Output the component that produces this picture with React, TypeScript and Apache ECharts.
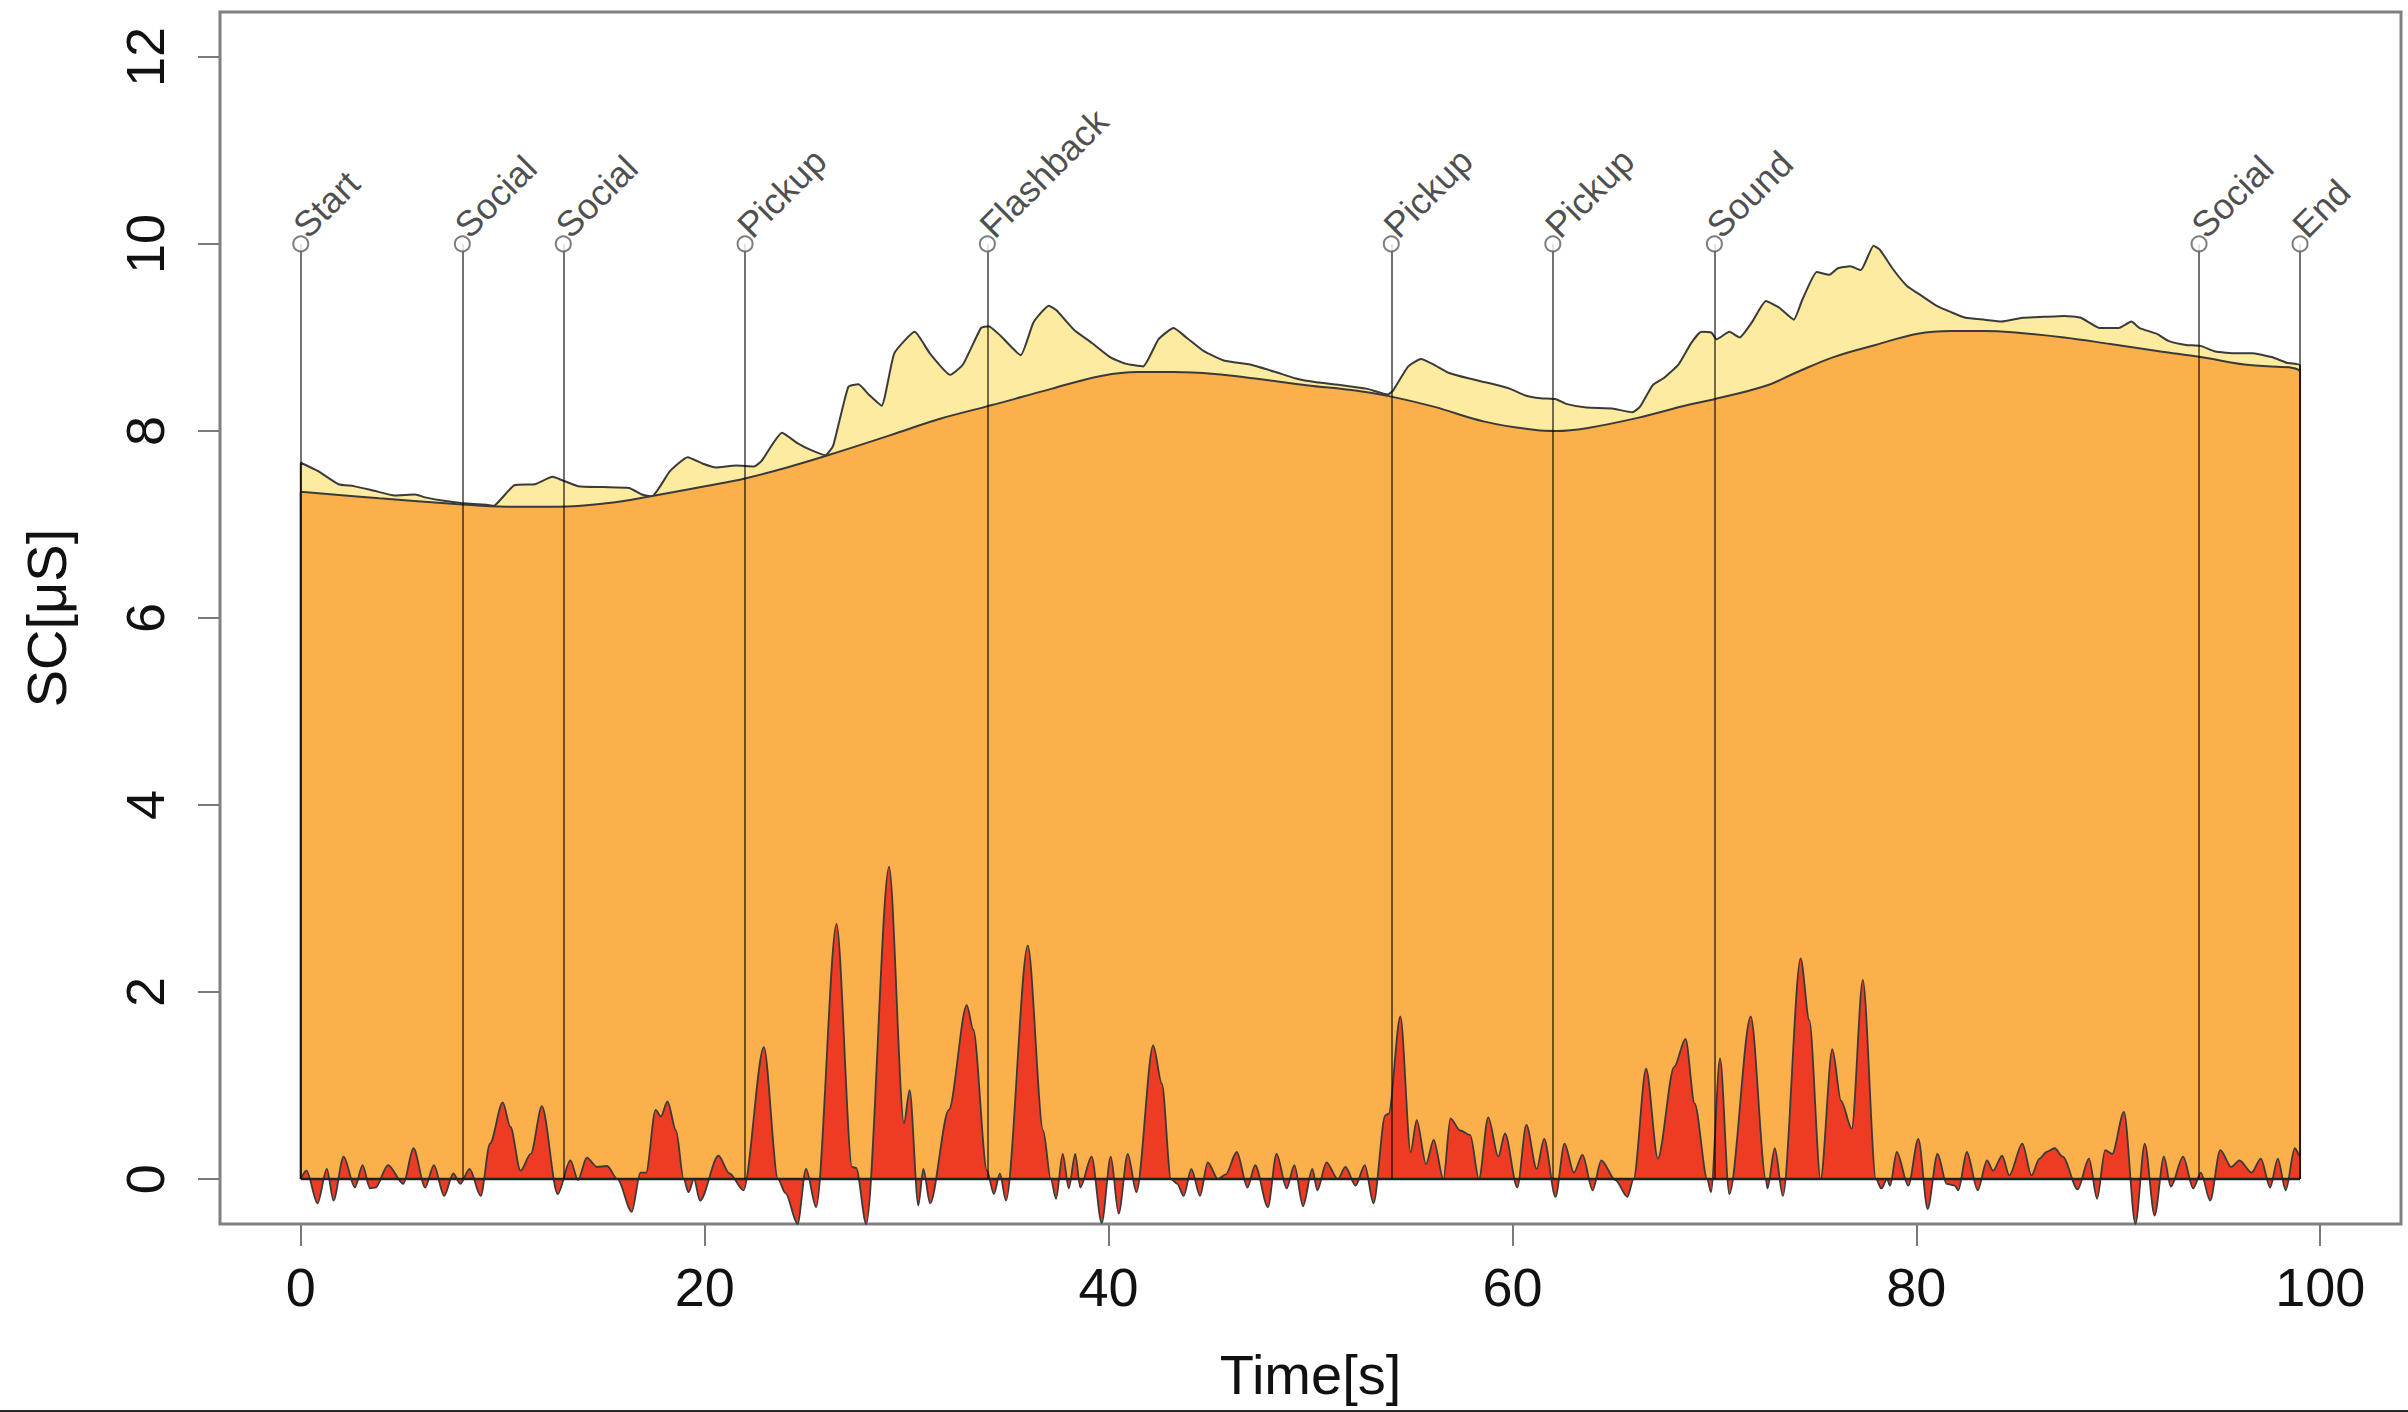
import React, { useEffect, useRef } from "react";
import * as echarts from "echarts";

// ---- data ----
const eventTimes = [0, 8, 13, 22, 34, 54, 62, 70, 94, 99];
const eventLabels = ["Start", "Social", "Social", "Pickup", "Flashback", "Pickup", "Pickup", "Sound", "Social", "End"];
const markerLevel = 10;

const xTicks = [0, 20, 40, 60, 80, 100];
const yTicks = [0, 2, 4, 6, 8, 10, 12];

const totalSC: [number, number][] = [
  [0, 0], [0, 7.66], [0.86, 7.57], [1.87, 7.43], [2.63, 7.41], [3.64, 7.36], [4.65, 7.31], [5.66, 7.32], [6.16, 7.29],
  [7.17, 7.25], [7.93, 7.23], [9.19, 7.21], [9.57, 7.2], [9.95, 7.28], [10.58, 7.42], [11.59, 7.43], [12.47, 7.51],
  [12.98, 7.47], [13.73, 7.41], [15.0, 7.4], [16.26, 7.39], [16.89, 7.32], [17.39, 7.3], [18.28, 7.57], [19.16, 7.72],
  [19.92, 7.65], [20.55, 7.61], [21.56, 7.63], [22.44, 7.62], [22.82, 7.68], [23.83, 7.98], [24.59, 7.87], [25.22, 7.8],
  [25.98, 7.74], [26.36, 7.84], [27.11, 8.47], [27.62, 8.5], [28.12, 8.39], [28.76, 8.27], [29.39, 8.83], [30.4, 9.06],
  [31.15, 8.83], [32.16, 8.6], [32.79, 8.71], [33.68, 9.1], [34.06, 9.12], [34.64, 9.02], [35.65, 8.81], [36.28, 9.16],
  [37.04, 9.34], [37.42, 9.29], [38.3, 9.08], [39.18, 8.94], [40.07, 8.79], [40.83, 8.72], [41.71, 8.69], [42.47, 8.98],
  [43.22, 9.1], [43.85, 9.0], [44.74, 8.85], [45.75, 8.75], [47.01, 8.71], [48.27, 8.63], [49.28, 8.56], [50.29, 8.52],
  [51.55, 8.49], [52.82, 8.45], [53.83, 8.39], [54.08, 8.43], [54.84, 8.69], [55.47, 8.77], [56.1, 8.71], [56.86, 8.62],
  [57.87, 8.56], [58.88, 8.51], [59.89, 8.45], [60.64, 8.38], [61.4, 8.35], [62.16, 8.34], [62.66, 8.29], [63.67, 8.25],
  [64.94, 8.24], [65.94, 8.2], [66.32, 8.26], [66.95, 8.49], [67.46, 8.56], [68.22, 8.71], [68.85, 8.94], [69.35, 9.06],
  [69.86, 9.05], [70.11, 8.98], [70.74, 9.06], [71.25, 9.0], [71.88, 9.17], [72.55, 9.39], [73.2, 9.32], [73.93, 9.19],
  [74.35, 9.4], [75.07, 9.7], [75.7, 9.67], [76.11, 9.74], [76.73, 9.76], [77.25, 9.72], [77.88, 9.98], [78.19, 9.94],
  [78.81, 9.74], [79.54, 9.55], [80.16, 9.46], [80.99, 9.34], [81.72, 9.27], [82.44, 9.21], [83.38, 9.19], [84.21, 9.17],
  [85.25, 9.21], [86.29, 9.22], [87.32, 9.23], [88.15, 9.21], [89.09, 9.1], [90.02, 9.1], [90.65, 9.17], [91.06, 9.1],
  [91.89, 9.04], [92.51, 8.96], [93.35, 8.92], [94.07, 8.91], [94.8, 8.85], [95.84, 8.83], [96.67, 8.83], [97.6, 8.79],
  [98.33, 8.73], [99, 8.7], [99, 0],
];

const tonicSC: [number, number][] = [
  [0, 0], [0, 7.35], [3.89, 7.28], [7.67, 7.22], [10.2, 7.19], [12.72, 7.19], [15.25, 7.23], [17.27, 7.3], [20.3, 7.42],
  [21.94, 7.49], [24.08, 7.61], [26.1, 7.74], [29.13, 7.95], [31.66, 8.13], [33.93, 8.26], [34.64, 8.3], [37.16, 8.45],
  [39.69, 8.59], [41.46, 8.63], [43.22, 8.63], [45.24, 8.61], [47.26, 8.56], [49.79, 8.49], [52.31, 8.43], [53.95, 8.37],
  [56.1, 8.26], [58.62, 8.1], [61.15, 8.01], [62.16, 8.0], [63.67, 8.03], [66.2, 8.14], [68.72, 8.28], [70.0, 8.34],
  [72.51, 8.48], [74.0, 8.62], [75.9, 8.79], [77.98, 8.92], [80.06, 9.04], [81.72, 9.07], [83.38, 9.07], [85.04, 9.05],
  [87.32, 9.0], [89.61, 8.93], [92.1, 8.85], [94.07, 8.79], [96.25, 8.71], [99, 8.63], [99, 0],
];

const phasicSC: [number, number][] = [
  [0, 0], [0.28, 0.09], [0.83, -0.26], [1.29, 0.11], [1.62, -0.23], [2.12, 0.24], [2.68, -0.09], [3.06, 0.15],
  [3.43, -0.1], [3.7, -0.09], [4.32, 0.15], [5.08, -0.05], [5.58, 0.33], [6.16, -0.09], [6.59, 0.15], [7.1, -0.18],
  [7.55, 0.06], [7.9, -0.05], [8.36, 0.11], [8.91, -0.18], [9.37, 0.38], [10.0, 0.82], [10.38, 0.56], [10.88, 0.09],
  [11.39, 0.27], [11.94, 0.78], [12.72, -0.16], [13.35, 0.2], [13.73, -0.01], [14.16, 0.23], [14.67, 0.13], [15.17, 0.14],
  [15.68, 0.0], [16.39, -0.35], [16.82, 0.07], [17.1, 0.07], [17.57, 0.74], [17.83, 0.67], [18.16, 0.83], [18.58, 0.52],
  [18.96, 0.0], [19.2, -0.14], [19.47, 0.0], [19.77, -0.23], [20.68, 0.25], [21.23, 0.06], [21.92, -0.12], [22.93, 1.41],
  [23.63, 0.0], [24.0, -0.15], [24.6, -0.48], [25.02, 0.11], [25.52, -0.3], [26.53, 2.73], [27.3, 0.13], [27.5, 0.12],
  [28.0, -0.48], [29.13, 3.34], [29.87, 0.6], [30.15, 0.95], [30.58, -0.28], [30.83, 0.11], [31.16, -0.26], [32.09, 0.74],
  [32.98, 1.86], [33.3, 1.6], [33.98, 0.09], [34.32, -0.16], [34.62, 0.06], [34.92, -0.23], [36.0, 2.5], [36.76, 0.52],
  [37.14, 0.0], [37.4, -0.21], [37.73, 0.27], [38.03, -0.1], [38.35, 0.27], [38.6, -0.09], [39.16, 0.24], [39.66, -0.47],
  [40.11, 0.24], [40.5, -0.37], [40.95, 0.27], [41.38, -0.14], [42.21, 1.43], [42.64, 1.02], [43.09, 0.0], [43.4, -0.05],
  [43.72, -0.18], [44.1, 0.11], [44.53, -0.18], [44.91, 0.18], [45.42, 0.0], [45.8, 0.05], [46.35, 0.29], [46.88, -0.09],
  [47.26, 0.15], [47.89, -0.3], [48.32, 0.27], [48.82, -0.1], [49.2, 0.15], [49.63, -0.29], [50.09, 0.11], [50.34, -0.12],
  [50.79, 0.18], [51.35, 0.0], [51.73, 0.13], [52.23, -0.07], [52.69, 0.15], [53.12, -0.26], [53.7, 0.68], [53.87, 0.7],
  [54.45, 1.74], [54.96, 0.29], [55.26, 0.63], [55.72, 0.16], [56.1, 0.42], [56.58, 0.0], [56.93, 0.65], [57.41, 0.52],
  [57.91, 0.47], [58.34, 0.0], [58.8, 0.66], [59.3, 0.24], [59.63, 0.49], [60.24, -0.09], [60.69, 0.58], [61.2, 0.11],
  [61.57, 0.43], [62.13, -0.19], [62.58, 0.38], [63.04, 0.07], [63.47, 0.26], [63.97, -0.12], [64.4, 0.2], [65.1, -0.01],
  [65.69, -0.19], [66.0, 0.0], [66.62, 1.18], [67.2, 0.22], [68.01, 1.2], [68.57, 1.5], [69.02, 0.81], [69.65, 0.0],
  [69.83, -0.14], [70.28, 1.29], [70.74, -0.16], [71.8, 1.74], [72.55, 0.0], [72.63, -0.1], [72.99, 0.33], [73.39, -0.18],
  [74.27, 2.36], [74.7, 1.7], [75.26, 0.0], [75.84, 1.39], [76.27, 0.84], [76.8, 0.54], [77.35, 2.13], [78.0, 0.0],
  [78.27, -0.1], [78.55, 0.0], [78.7, -0.07], [79.03, 0.29], [79.6, -0.07], [80.1, 0.43], [80.56, -0.32], [81.05, 0.27],
  [81.5, -0.05], [81.9, -0.07], [82.08, -0.12], [82.5, 0.29], [83.04, -0.12], [83.5, 0.2], [83.8, 0.09], [84.25, 0.25],
  [84.6, 0.04], [85.25, 0.38], [85.7, 0.04], [86.1, 0.22], [86.45, 0.29], [86.85, 0.33], [87.25, 0.24], [87.99, -0.11],
  [88.55, 0.22], [88.95, -0.21], [89.35, 0.31], [89.7, 0.27], [90.28, 0.72], [90.85, -0.48], [91.31, 0.38], [91.8, -0.39],
  [92.26, 0.24], [92.6, -0.08], [93.21, 0.24], [93.71, -0.1], [94.09, 0.07], [94.55, -0.23], [95.05, 0.31], [95.6, 0.13],
  [96.0, 0.2], [96.6, 0.07], [97.06, 0.22], [97.52, -0.09], [97.9, 0.22], [98.29, -0.12], [98.74, 0.33], [99.0, 0.25],
  [99, 0],
];

const baseline: [number, number][] = [
  [eventTimes[0], 0],
  [eventTimes[eventTimes.length - 1], 0],
];

const FONT = "'Liberation Sans', Arial, Helvetica, sans-serif";
const OUTLINE = "#3a3a3a";

export default function App() {
  const ref = useRef<HTMLDivElement>(null);

  useEffect(() => {
    document.body.style.margin = "0";
    if (!ref.current) return;
    const chart = echarts.init(ref.current, undefined, { renderer: "svg" });

    const option: any = {
      animation: false,
      backgroundColor: "#ffffff",
      textStyle: { fontFamily: FONT },
      grid: {
        left: 220,
        right: 7,
        top: 12,
        bottom: 188,
        show: true,
        borderColor: "#808080",
        borderWidth: 3,
        backgroundColor: "transparent",
        containLabel: false,
      },
      xAxis: {
        type: "value",
        min: -4,
        max: 104,
        position: "bottom",
        name: "Time[s]",
        nameLocation: "middle",
        nameGap: 122,
        nameTextStyle: { fontSize: 56, color: "#111", fontFamily: FONT },
        axisLine: { show: false, onZero: false },
        splitLine: { show: false },
        axisTick: {
          show: true,
          inside: false,
          length: 22,
          customValues: xTicks,
          lineStyle: { color: "#7a7a7a", width: 2 },
        },
        axisLabel: {
          customValues: xTicks,
          fontSize: 54,
          color: "#111",
          margin: 36,
          fontFamily: FONT,
        },
      },
      yAxis: {
        type: "value",
        min: -0.48,
        max: 12.48,
        position: "left",
        name: "SC[μS]",
        nameLocation: "middle",
        nameGap: 146,
        nameRotate: 90,
        nameTextStyle: { fontSize: 56, color: "#111", fontFamily: FONT },
        axisLine: { show: false, onZero: false },
        splitLine: { show: false },
        axisTick: {
          show: true,
          inside: false,
          length: 22,
          customValues: yTicks,
          lineStyle: { color: "#7a7a7a", width: 2 },
        },
        axisLabel: {
          customValues: yTicks,
          rotate: 90,
          fontSize: 54,
          color: "#111",
          margin: 48,
          fontFamily: FONT,
        },
      },
      graphic: [
        {
          type: "rect",
          left: 0,
          bottom: 0,
          shape: { width: 2408, height: 2 },
          style: { fill: "#2a2a2a" },
          silent: true,
        },
      ],
      series: [
        {
          type: "line",
          name: "total",
          data: totalSC,
          showSymbol: false,
          smooth: 0.15,
          z: 1,
          lineStyle: { color: OUTLINE, width: 2 },
          areaStyle: { color: "#FDEBA0", opacity: 1 },
          silent: true,
        },
        {
          type: "line",
          name: "tonic",
          data: tonicSC,
          showSymbol: false,
          smooth: 0.4,
          z: 2,
          lineStyle: { color: OUTLINE, width: 2 },
          areaStyle: { color: "#FBB04C", opacity: 1 },
          silent: true,
        },
        {
          type: "line",
          name: "phasic",
          data: phasicSC,
          showSymbol: false,
          smooth: 0.3,
          smoothMonotone: "x",
          z: 3,
          lineStyle: { color: OUTLINE, width: 1.8 },
          areaStyle: { color: "#EE3B23", opacity: 1 },
          silent: true,
        },
        {
          type: "line",
          name: "baseline",
          data: baseline,
          showSymbol: false,
          z: 4,
          lineStyle: { color: "#222", width: 2.5 },
          silent: true,
        },
        {
          type: "scatter",
          name: "events",
          z: 10,
          symbol: "emptyCircle",
          symbolSize: 15,
          itemStyle: { color: "#5e5e5e", borderWidth: 1.6 },
          data: eventTimes.map((t, i) => ({ value: [t, markerLevel], name: eventLabels[i] })),
          label: {
            show: true,
            formatter: "{b}",
            position: "right",
            distance: 0,
            offset: [2, -16],
            rotate: 45,
            align: "left",
            verticalAlign: "middle",
            fontSize: 36,
            color: "#1e1e1e",
            fontFamily: FONT,
          },
          markLine: {
            silent: true,
            symbol: ["none", "none"],
            label: { show: false },
            lineStyle: { color: "rgba(0,0,0,0.55)", width: 2, type: "solid" },
            data: eventTimes.map((t) => [{ coord: [t, 0] }, { coord: [t, markerLevel] }]),
          },
          silent: true,
        },
      ],
    };

    chart.setOption(option);
    return () => chart.dispose();
  }, []);

  return (
    <div
      ref={ref}
      style={{ position: "absolute", left: 0, top: 0, width: 2408, height: 1412 }}
    />
  );
}
